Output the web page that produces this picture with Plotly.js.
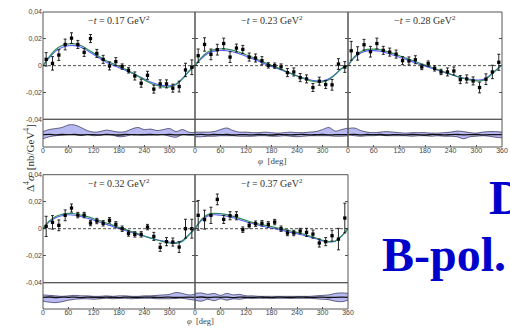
<!DOCTYPE html>
<html><head><meta charset="utf-8">
<script src="https://cdn.plot.ly/plotly-3.0.1.min.js"></script>
<style>html,body{margin:0;padding:0;background:#fff}#c{width:510px;height:333px}</style>
</head><body><div id="c"></div>
<script>
// ---- data ----
const phiBins = [7.5,22.5,37.5,52.5,67.5,82.5,97.5,112.5,127.5,142.5,157.5,172.5,187.5,202.5,217.5,232.5,247.5,262.5,277.5,292.5,307.5,322.5,337.5,352.5];
const phiCurve = [0,15,30,45,60,75,90,105,120,135,150,165,180,195,210,225,240,255,270,285,300,315,330,345,360];
const tLabels = ["0.17","0.23","0.28","0.32","0.37"];
const yTickVals = [-0.04,-0.02,0,0.02,0.04];
const yTickText = ["-0,04","-0,02","0","0,02","0,04"];

const d1 = [0.0047,0.0017,0.0079,0.0158,0.0205,0.0158,0.0099,0.0202,0.0091,0.0047,-0.0002,0.003,-0.0007,-0.0035,-0.0077,-0.0131,-0.0072,-0.0175,-0.0136,-0.0136,-0.0168,-0.0156,-0.0032,-0.0012];
const e1 = [0.005,0.005,0.004,0.004,0.004,0.003,0.003,0.003,0.003,0.003,0.003,0.003,0.002,0.002,0.003,0.003,0.003,0.003,0.003,0.003,0.003,0.004,0.005,0.0055];
const d2 = [0.0074,0.0158,0.0084,0.0119,0.0165,0.0064,0.0131,0.0121,0.0064,0.0057,0.0037,0.0002,0,-0.0007,-0.0052,-0.0047,-0.0089,-0.0099,-0.0163,-0.0116,-0.0141,-0.0143,0.0012,-0.001];
const e2 = [0.005,0.005,0.004,0.004,0.004,0.004,0.003,0.003,0.003,0.003,0.003,0.002,0.002,0.002,0.003,0.003,0.003,0.003,0.003,0.003,0.003,0.004,0.004,0.004];
const d3 = [0.0111,0.0091,0.0156,0.0104,0.0165,0.0114,0.0101,0.0086,0.0037,0.0035,0.0044,-0.001,0.0015,-0.002,-0.0047,-0.0047,-0.004,-0.0104,-0.0099,-0.0114,-0.0163,-0.0101,-0.0047,0.0025];
const e3 = [0.007,0.005,0.004,0.004,0.004,0.003,0.003,0.003,0.003,0.003,0.003,0.002,0.002,0.002,0.002,0.003,0.003,0.003,0.003,0.003,0.004,0.004,0.005,0.006];
const d4 = [0.0017,0.0047,0.0025,0.0099,0.0153,0.0101,0.0101,0.0042,0.0057,0.004,0.0062,0.0032,0,-0.0035,-0.0042,-0.0042,0.0012,-0.0057,-0.0138,-0.0096,-0.0099,-0.0136,0,0];
const e4 = [0.0075,0.005,0.004,0.004,0.003,0.002,0.002,0.002,0.002,0.002,0.002,0.002,0.002,0.002,0.002,0.002,0.002,0.003,0.003,0.003,0.003,0.004,0.007,0.007];
const d5 = [0.0099,0.0067,0.0099,0.0217,0.0069,0.0096,0.0096,-0.0007,0.0025,0.0037,0.004,0.0032,0.0049,0,-0.0032,-0.0032,-0.0017,-0.0027,-0.004,-0.0106,-0.0096,-0.0052,-0.0077,0.0079];
const e5 = [0.011,0.007,0.006,0.004,0.003,0.003,0.003,0.002,0.002,0.002,0.002,0.002,0.002,0.002,0.002,0.002,0.002,0.003,0.003,0.003,0.003,0.004,0.008,0.011];

const g1 = [0,0.0067,0.012,0.015,0.0163,0.0163,0.015,0.0123,0.0094,0.0064,0.0037,0.0015,-0.0005,-0.0027,-0.0052,-0.0079,-0.0106,-0.0131,-0.0148,-0.0158,-0.0158,-0.0141,-0.0099,-0.0044,0];
const b1 = [0,0.006,0.0108,0.0136,0.0148,0.0149,0.0138,0.0112,0.0083,0.0053,0.0026,0.0004,-0.0015,-0.0034,-0.0055,-0.0077,-0.0100,-0.0122,-0.0139,-0.0149,-0.015,-0.0136,-0.0097,-0.0043,0];
const g2 = [0,0.006,0.0101,0.0119,0.0126,0.0123,0.0114,0.0099,0.0081,0.0062,0.0042,0.0022,0.0002,-0.0017,-0.0037,-0.0057,-0.0077,-0.0096,-0.0111,-0.0121,-0.0121,-0.0104,-0.0067,-0.0022,0];
const b2 = [0,0.0053,0.0091,0.0108,0.0114,0.0111,0.0102,0.0087,0.007,0.0051,0.0032,0.0013,-0.0006,-0.0023,-0.0041,-0.0059,-0.0076,-0.0092,-0.0105,-0.0113,-0.0113,-0.0098,-0.0064,-0.0021,0];
const g3 = [0,0.0067,0.0104,0.0121,0.0123,0.0119,0.0106,0.0091,0.0074,0.0057,0.004,0.0022,0.0005,-0.0012,-0.003,-0.0047,-0.0064,-0.0081,-0.0096,-0.0106,-0.0114,-0.0111,-0.0081,-0.0037,0.0005];
const b3 = [0,0.006,0.0094,0.011,0.0112,0.0107,0.0095,0.008,0.0063,0.0047,0.003,0.0013,-0.0003,-0.0019,-0.0035,-0.005,-0.0065,-0.008,-0.0092,-0.0101,-0.0107,-0.0104,-0.0077,-0.0036,0.0004];
const g4 = [0,0.0057,0.0091,0.0106,0.0114,0.0111,0.0101,0.0089,0.0074,0.0059,0.0042,0.0027,0.001,-0.0005,-0.0022,-0.0037,-0.0054,-0.0069,-0.0084,-0.0096,-0.0106,-0.0109,-0.0094,-0.0049,0];
const b4 = [0,0.005,0.0082,0.0096,0.0103,0.01,0.0091,0.0078,0.0063,0.0048,0.0032,0.0017,0.0001,-0.0013,-0.0028,-0.0042,-0.0056,-0.007,-0.0082,-0.0092,-0.01,-0.0102,-0.0088,-0.0046,0];
const g5 = [0,0.0067,0.0104,0.0114,0.0111,0.0104,0.0091,0.0077,0.0062,0.0047,0.0035,0.0025,0.0015,0.0005,-0.0005,-0.0017,-0.0027,-0.004,-0.0054,-0.0069,-0.0086,-0.0096,-0.0091,-0.0054,0];
const b5 = [0,0.006,0.0094,0.0103,0.01,0.0093,0.0081,0.0067,0.0052,0.0038,0.0025,0.0014,0.0004,-0.0006,-0.0016,-0.0027,-0.0037,-0.0049,-0.0061,-0.0075,-0.009,-0.0098,-0.0093,-0.0056,0];

// residual bands (arbitrary units)
const ru1 = [3,5,6,7,9.5,9.5,7,4,2.5,3,4.5,3.5,2.5,3,5.5,7,5,5.5,4,5,6,3,5,2.5,2];
const rl1 = [-4,-2,-1,-0.5,0,0,-0.5,0,-1,-0.5,0,-0.5,-2,-1.5,0,0,-0.5,-0.5,0,0,-1.5,-2.5,0,-0.5,-0.5];
const ru2 = [2.5,2.5,2.5,3,5,6.5,4,2.5,2.5,2,2,2.5,2,1.5,2,2.5,2,2,2.5,3,5,7,3.5,5,6.5];
const rl2 = [-2,-2,-1.5,-1.5,-1,-1,-1,-1.5,-1.5,-1.5,-1,-1,-1.5,-1.5,-1,-1.5,-2,-1.5,-1,-1,-1,-1,-1.5,-1.5,-1];
const ru3 = [6,6.5,4,2.5,2,2.5,3,2.5,2,1.5,2,2,2,1.5,1.5,2,2.5,3.5,3,2,1.5,2.5,3,3,2.5];
const rl3 = [0,-1,-1.5,-1,-1,-0.5,-1,-1,-1,-1,-1.5,-1,-1,-1.5,-1,-1.5,-1.5,-2,-4,-2,-1.5,-1,-1.5,-2.5,-3];
const ru4 = [2.5,2,1.5,1,1.5,2,1.5,1.5,1,1,1.5,1,1.5,1.5,1,1,1.5,1.5,2,2.5,3,5,4,2.5,3];
const rl4 = [-4,-5,-5.5,-4.5,-3,-2,-1.5,-1.5,-2,-1.5,-1,-1.5,-1,-1,-1.5,-1,-1,-1,-1.5,-1.5,-1.5,-1,-1,-2,-3];
const ru5 = [4,4.5,3,4,2,4,2.5,3,1.5,1.5,1,1,1,1,1,1,1,1,1,1.5,2,2.5,4,4.5,4];
const rl5 = [-3,-4,-2,-3.5,-1.5,-3,-1.5,-2,-1,-1,-1,-1,-1,-1,-1,-1,-1,-1,-1,-1.5,-2,-2.5,-4,-4.5,-3];
const residLine = [0,0.3,-0.2,0.2,0,0.2,-0.3,0.1,0,-0.2,0.2,0,-0.3,0.2,0,-0.2,0.1,0.2,-0.1,0,0.2,-0.2,0,0.1,0];

const dataSets = [[d1,e1,g1,b1,ru1,rl1],[d2,e2,g2,b2,ru2,rl2],[d3,e3,g3,b3,ru3,rl3],[d4,e4,g4,b4,ru4,rl4],[d5,e5,g5,b5,ru5,rl5]];

// ---- layout geometry (pixels) ----
const W=510,H=333;
const px=v=>v/W, py=v=>1-v/H;
const panels = [
  {x:[43,195], m:[12,119.3], r:[119.3,147], left:true, end:false},
  {x:[195,348], m:[12,119.3], r:[119.3,147], left:false, end:false},
  {x:[348,502], m:[12,119.3], r:[119.3,147], left:false, end:true},
  {x:[43,195], m:[174.7,282.7], r:[282.7,309], left:true, end:false},
  {x:[195,348], m:[174.7,282.7], r:[282.7,309], left:false, end:true},
];

const traces=[], shapes=[], annotations=[];
const layout = {width:W,height:H,margin:{l:0,r:0,t:0,b:0},paper_bgcolor:'#fff',plot_bgcolor:'rgba(0,0,0,0)',showlegend:false};
const frameCol='#555';
const tickFont={family:'Liberation Sans, Arial, sans-serif',size:7,color:'#444'};

panels.forEach((p,i)=>{
  const xn = i+1, ym = 2*i+1, yr = 2*i+2;
  const xa = 'x'+(xn===1?'':xn), yma='y'+(ym===1?'':ym), yra='y'+yr;
  const [d,e,g,b,ru,rl] = dataSets[i];
  const ticksX = p.end?[0,60,120,180,240,300,360]:[0,60,120,180,240,300];
  layout['xaxis'+(xn===1?'':xn)] = {domain:[px(p.x[0]),px(p.x[1])],range:[0,360],anchor:yra,
    showgrid:false,zeroline:false,showline:false,ticks:'inside',ticklen:2,tickcolor:frameCol,ticklabelstandoff:-2,
    tickvals:ticksX,ticktext:ticksX.map(String),tickfont:tickFont,fixedrange:true};
  layout['yaxis'+(ym===1?'':ym)] = {domain:[py(p.m[1]),py(p.m[0])],range:[-0.04,0.04],anchor:xa,
    showgrid:false,zeroline:false,showline:false,ticks:'inside',ticklen:3,tickcolor:frameCol,mirror:'ticks',
    tickvals:yTickVals,ticktext:yTickText,showticklabels:p.left,tickfont:tickFont,fixedrange:true};
  layout['yaxis'+yr] = {domain:[py(p.r[1]),py(p.r[0])],range:[-12,15],anchor:xa,
    showgrid:false,zeroline:false,showline:false,ticks:'',showticklabels:false,fixedrange:true};
  // frames
  shapes.push({type:'rect',xref:xa+' domain',yref:yma+' domain',x0:0,x1:1,y0:0,y1:1,line:{color:frameCol,width:1}});
  shapes.push({type:'rect',xref:xa+' domain',yref:yra+' domain',x0:0,x1:1,y0:0,y1:1,line:{color:frameCol,width:1}});
  shapes.push({type:'line',xref:xa+' domain',yref:yma,x0:0,x1:1,y0:0,y1:0,line:{color:'#222',width:0.8,dash:'3px,2px'}});
  // residual band
  traces.push({x:phiCurve,y:ru,xaxis:xa,yaxis:yra,mode:'lines',line:{color:'#2b2b55',width:0.7,shape:'spline'},hoverinfo:'skip'});
  traces.push({x:phiCurve,y:rl,xaxis:xa,yaxis:yra,mode:'lines',fill:'tonexty',fillcolor:'#b9b9f2',line:{color:'#2b2b55',width:0.7,shape:'spline'},hoverinfo:'skip'});
  traces.push({x:phiCurve,y:residLine,xaxis:xa,yaxis:yra,mode:'lines',line:{color:'#111',width:1.3,shape:'spline'},hoverinfo:'skip'});
  // curves
  traces.push({x:phiCurve,y:b,xaxis:xa,yaxis:yma,mode:'lines',line:{color:'#5a5aff',width:1.1,shape:'spline'},hoverinfo:'skip'});
  traces.push({x:phiCurve,y:g,xaxis:xa,yaxis:yma,mode:'lines',line:{color:'#2f8f60',width:1.2,shape:'spline'},hoverinfo:'skip'});
  // data
  traces.push({x:phiBins,y:d,xaxis:xa,yaxis:yma,mode:'markers',
    marker:{symbol:'square',size:3.3,color:'#000'},
    error_y:{type:'data',array:e,visible:true,color:'#111',thickness:0.9,width:1.5},cliponaxis:false});
  // panel title
  annotations.push({xref:'paper',yref:'paper',x:px((p.x[0]+p.x[1])/2),y:py(p.m[0]+8),
    text:'−<i>t</i> = '+tLabels[i]+' GeV<sup>2</sup>',showarrow:false,xanchor:'center',yanchor:'middle',
    font:{family:'Liberation Serif, serif',size:10,color:'#333'}});
});

annotations.push({xref:'paper',yref:'paper',x:px(20),y:py(158),textangle:-90,showarrow:false,
  text:'Δ<sup>4</sup><i>σ</i>  [nb/GeV<sup>4</sup>]',font:{family:'Liberation Serif, serif',size:11,color:'#333'}});
annotations.push({xref:'paper',yref:'paper',x:px(272),y:py(161),showarrow:false,
  text:'<i>φ</i>  [deg]',font:{family:'Liberation Serif, serif',size:9,color:'#444'}});
annotations.push({xref:'paper',yref:'paper',x:px(200),y:py(327.5),showarrow:false,
  text:'<i>φ</i>  [deg]',font:{family:'Liberation Serif, serif',size:8.5,color:'#444'}});
// big blue headline text
annotations.push({xref:'paper',yref:'paper',x:px(487),y:py(197),xanchor:'left',yanchor:'middle',showarrow:false,
  text:'<b>D</b>',font:{family:'Liberation Serif, Times New Roman, serif',size:48,color:'#0000cc'}});
annotations.push({xref:'paper',yref:'paper',x:px(380),y:py(254),xanchor:'left',yanchor:'middle',showarrow:false,
  text:'<b>B-pol.</b>',font:{family:'Liberation Serif, Times New Roman, serif',size:48,color:'#0000cc'}});

layout.shapes=shapes; layout.annotations=annotations;
Plotly.newPlot('c',traces,layout,{staticPlot:true,displayModeBar:false});
</script></body></html>
